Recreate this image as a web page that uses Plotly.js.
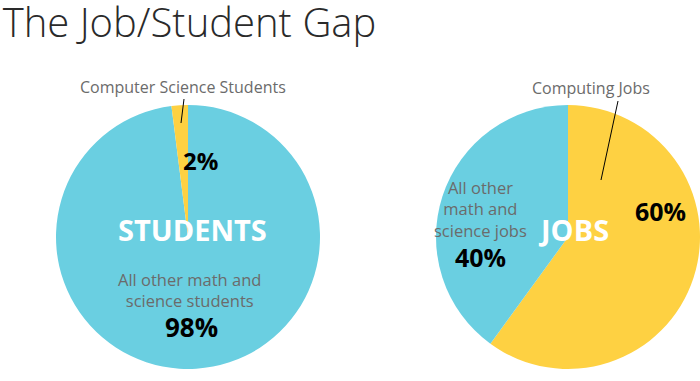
<!DOCTYPE html>
<html>
<head>
<meta charset="utf-8">
<script src="https://cdn.plot.ly/plotly-3.0.1.min.js"></script>
<style>html,body{margin:0;padding:0;background:#fff;}#chart{width:700px;height:381px;}</style>
</head>
<body>
<div id="chart"></div>
<script>
// Data
const studentLabels = ["All other math and science students", "Computer Science Students"];
const studentValues = [98, 2];
const jobLabels = ["Computing Jobs", "All other math and science jobs"];
const jobValues = [60, 40];
const studentColors = ["#6ACFE1", "#FED142"];
const jobColors = ["#FED142", "#6ACFE1"];
const studentPctText = ["98%", "2%"];
const jobPctText = ["60%", "40%"];

const W = 700, H = 381;
const px = x => x / W;
const py = y => 1 - y / H;
const FONT = "Open Sans, Noto Sans, sans-serif";
const LIGHT = "'Open Sans Light', 'Noto Sans Light', 'Roboto Light', 'Lato Light', 'Open Sans', sans-serif";

const data = [
  {
    type: "pie",
    labels: studentLabels,
    values: studentValues,
    marker: {colors: studentColors},
    sort: false,
    direction: "clockwise",
    rotation: 0,
    textinfo: "none",
    hoverinfo: "label+percent",
    domain: {x: [px(56), px(320)], y: [py(370), py(104)]},
    showlegend: false
  },
  {
    type: "pie",
    labels: jobLabels,
    values: jobValues,
    marker: {colors: jobColors},
    sort: false,
    direction: "clockwise",
    rotation: 0,
    textinfo: "none",
    hoverinfo: "label+percent",
    domain: {x: [px(436), px(700)], y: [py(370), py(104)]},
    showlegend: false
  }
];

function ann(text, x, y, size, color, weight) {
  return {
    text: text, xref: "paper", yref: "paper", x: px(x), y: py(y),
    xanchor: "center", yanchor: "middle", showarrow: false,
    font: {family: FONT, size: size, color: color, weight: weight || 400}
  };
}

const grey = "#6b6b6b";
const annotations = [
  ann(studentLabels[1], 183, 87, 16, grey),
  ann(studentPctText[1], 200, 160, 24, "#000", 700),
  ann("STUDENTS", 192, 229, 29, "#fff", 700),
  ann("All other math and<br>science students", 190, 290, 16.5, grey),
  ann(studentPctText[0], 191, 327, 26, "#000", 700),
  ann(jobLabels[0], 591, 88, 16, grey),
  ann(jobPctText[0], 660, 211, 25, "#000", 700),
  ann("JOBS", 573, 229, 29, "#fff", 700),
  ann("All other<br>math and<br>science jobs", 480, 209, 16.5, grey),
  ann(jobPctText[1], 480, 257, 25, "#000", 700)
];

const shapes = [
  {type: "line", xref: "paper", yref: "paper", x0: px(184), y0: py(99), x1: px(181), y1: py(123), line: {color: "#000", width: 1}},
  {type: "line", xref: "paper", yref: "paper", x0: px(618), y0: py(101), x1: px(601), y1: py(180), line: {color: "#000", width: 1}}
];

const layout = {
  width: W, height: H,
  margin: {l: 0, r: 0, t: 0, b: 0},
  paper_bgcolor: "#fff",
  title: {
    text: "The Job/Student Gap",
    x: 0.004, xanchor: "left", xref: "container",
    y: 1 - 23 / H, yanchor: "middle", yref: "container",
    font: {family: LIGHT, size: 40, color: "#2a2a2a", weight: 300}
  },
  annotations: annotations,
  shapes: shapes,
  showlegend: false
};

Plotly.newPlot("chart", data, layout, {displayModeBar: false, staticPlot: true});
</script>
</body>
</html>
